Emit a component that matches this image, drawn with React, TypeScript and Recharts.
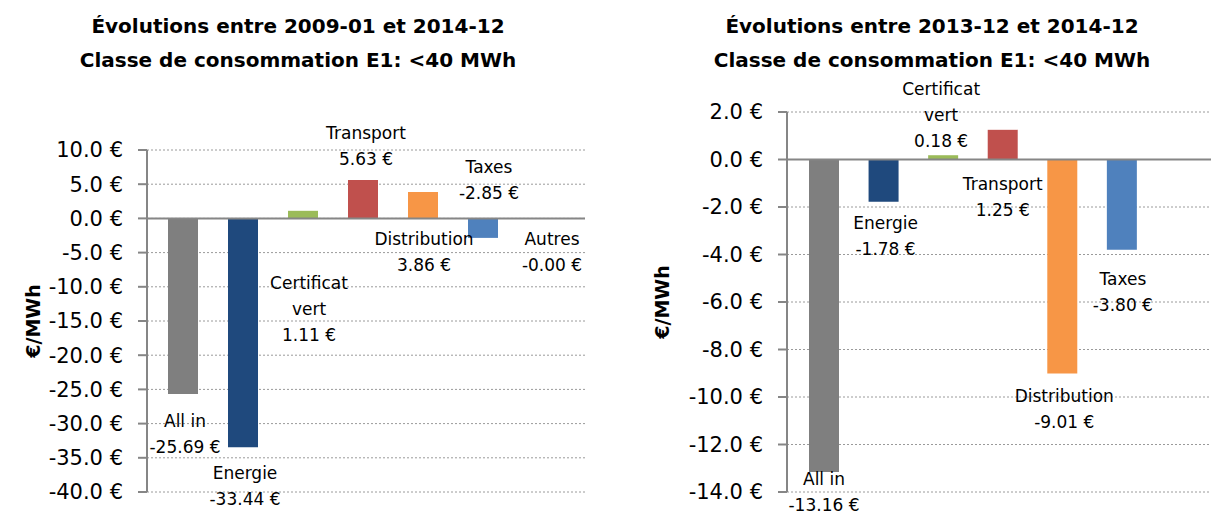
import { Bar, BarChart, CartesianGrid, Cell, LabelList, ReferenceLine, XAxis, YAxis } from "recharts";

const categories = ["All in", "Energie", "Certificat vert", "Transport", "Distribution", "Taxes", "Autres"];
const barColors = ["#7f7f7f", "#1f497d", "#9bbb59", "#c0504d", "#f79646", "#4f81bd", "#8064a2"];

// 2009-01 -> 2014-12
const longValues = [-25.69, -33.44, 1.11, 5.63, 3.86, -2.85, -0.001];
const longTicks = [10, 5, 0, -5, -10, -15, -20, -25, -30, -35, -40];

// 2013-12 -> 2014-12
const shortValues = [-13.16, -1.78, 0.18, 1.25, -9.01, -3.8, 0];
const shortTicks = [2, 0, -2, -4, -6, -8, -10, -12, -14];

// where each data label sits, in px from the end of its bar (first line centre)
const longLabelOffsets = [[2, 27], [2, 26], [6, 72], [3, -47], [1, 47], [6, -71], [9, 21]];
const shortLabelOffsets = [[0, 7], [2, 21], [-2, -66], [0, 54], [2, 23], [1, 29], [5, -50]];

const FONT = "'DejaVu Sans', sans-serif";
const AXIS = "#868686";

const fmtTick = (v: number) => `${v.toFixed(1)} €`;

function makeLabel(offsets: number[][]) {
  return (props: any) => {
    const vb = props.viewBox ?? props;
    const { x, y, width, height } = vb;
    const index = props.index ?? 0;
    const value = Number(props.value);
    const end = value >= 0 ? Math.min(y, y + height) : Math.max(y, y + height);
    const [dx, dy] = offsets[index];
    const name = categories[index];
    const lines = name.length > 12 ? name.split(" ") : [name];
    lines.push(`${value.toFixed(2)} €`);
    const cx = x + width / 2 + dx;
    return (
      <text x={cx} y={end + dy} textAnchor="middle" fontSize={17} fill="#000" fontFamily={FONT}>
        {lines.map((l, i) => (
          <tspan key={i} x={cx} dy={i === 0 ? "0.35em" : 26}>
            {l}
          </tspan>
        ))}
      </text>
    );
  };
}

type ChartProps = {
  title: string[];
  values: number[];
  ticks: number[];
  offsets: number[][];
  left: number;
  width: number;
  yAxisWidth: number;
  top: number;
  right: number;
  pad: { left: number; right: number };
  titleCenter: number;
  yTitleX: number;
};

function EvolutionChart(p: ChartProps) {
  const data = categories.map((name, i) => ({ name, value: p.values[i] }));
  return (
    <>
      <div
        style={{
          position: "absolute",
          left: p.titleCenter - 300,
          top: 9,
          width: 600,
          textAlign: "center",
          fontWeight: "bold",
          fontSize: 20,
          lineHeight: "34px",
          fontFamily: FONT,
          color: "#000",
        }}
      >
        {p.title.map((t) => (
          <div key={t}>{t}</div>
        ))}
      </div>
      <div style={{ position: "absolute", left: p.left, top: 0 }}>
        <BarChart
          width={p.width}
          height={511}
          data={data}
          margin={{ top: p.top, right: p.right, bottom: 19, left: 0 }}
          style={{ overflow: "visible" }}
        >
          <CartesianGrid vertical={false} stroke="#9a9a9a" strokeDasharray="2 2" />
          <XAxis dataKey="name" hide padding={p.pad} />
          <YAxis
            width={p.yAxisWidth}
            domain={[p.ticks[p.ticks.length - 1], p.ticks[0]]}
            ticks={p.ticks}
            interval={0}
            tickFormatter={fmtTick}
            tick={{ fontSize: 21, fill: "#000", fontFamily: FONT }}
            tickSize={9}
            tickMargin={15}
            axisLine={{ stroke: AXIS, strokeWidth: 2 }}
            tickLine={{ stroke: AXIS, strokeWidth: 2 }}
            label={{
              value: "€/MWh",
              angle: -90,
              position: "insideLeft",
              offset: p.yTitleX,
              style: { textAnchor: "middle", fontWeight: "bold", fontSize: 19, fill: "#000", fontFamily: FONT },
            }}
          />
          <ReferenceLine y={0} stroke={AXIS} strokeWidth={2} />
          <Bar dataKey="value" barSize={30} isAnimationActive={false}>
            {data.map((d, i) => (
              <Cell key={d.name} fill={barColors[i]} />
            ))}
            <LabelList dataKey="value" content={makeLabel(p.offsets)} />
          </Bar>
        </BarChart>
      </div>
    </>
  );
}

export default function App() {
  return (
    <div style={{ position: "absolute", left: 0, top: 0, width: 1216, height: 511, background: "#fff", overflow: "hidden" }}>
      <EvolutionChart
        title={["Évolutions entre 2009-01 et 2014-12", "Classe de consommation E1: <40 MWh"]}
        values={longValues}
        ticks={longTicks}
        offsets={longLabelOffsets}
        left={0}
        width={600}
        yAxisWidth={147}
        top={150}
        right={15}
        pad={{ left: 6, right: 12 }}
        titleCenter={298}
        yTitleX={33}
      />
      <EvolutionChart
        title={["Évolutions entre 2013-12 et 2014-12", "Classe de consommation E1: <40 MWh"]}
        values={shortValues}
        ticks={shortTicks}
        offsets={shortLabelOffsets}
        left={610}
        width={606}
        yAxisWidth={177}
        top={112}
        right={5}
        pad={{ left: 7, right: 0 }}
        titleCenter={932}
        yTitleX={52}
      />
    </div>
  );
}
